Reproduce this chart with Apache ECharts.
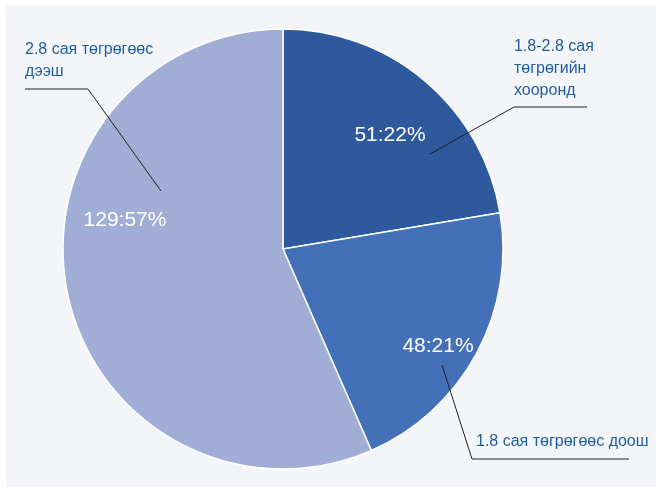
<!DOCTYPE html>
<html><head><meta charset="utf-8">
<script src="https://cdn.jsdelivr.net/npm/echarts@6/dist/echarts.min.js"></script>
<style>html,body{margin:0;padding:0;background:#fff}#c{width:656px;height:496px}</style>
</head><body><div id="c"></div>
<script>
const categories = ['1.8-2.8 сая\nтөгрөгийн\nхооронд', '1.8 сая төгрөгөөс доош', '2.8 сая төгрөгөөс\nдээш'];
const values = [51, 48, 129];
const percents = [22, 21, 57];
const colors = ['#2E5A9D', '#4370B7', '#A0AED6'];

const FONT = "'Liberation Sans Narrow', 'Arial Narrow', 'Liberation Sans', Arial, sans-serif";
const chart = echarts.init(document.getElementById('c'), null, {renderer: 'canvas'});

const outerLayout = [
  {x: 514, y: 36, align: 'left', verticalAlign: 'top', labelLinePoints: [[430, 154], [514, 107], [587, 107]]},
  {x: 476, y: 442, align: 'left', verticalAlign: 'middle', labelLinePoints: [[442, 365], [472, 459], [629, 459]]},
  {x: 25, y: 39, align: 'left', verticalAlign: 'top', labelLinePoints: [[161, 191], [88, 89], [25, 89]]}
];
const innerLayout = [
  {x: 390, y: 135}, {x: 438, y: 346}, {x: 125, y: 220}
];

const pieData = categories.map((c, i) => ({name: c, value: values[i], itemStyle: {color: colors[i]}}));

chart.setOption({
  backgroundColor: '#ffffff',
  animation: false,
  graphic: [{type: 'rect', shape: {x: 6, y: 5, width: 650, height: 482}, style: {fill: '#F3F5F9'}, z: -10}],
  series: [
    {
      type: 'pie', z: 2, center: [283, 249], radius: 220, startAngle: 90, clockwise: true,
      data: pieData,
      itemStyle: {borderColor: '#ffffff', borderWidth: 1.5},
      label: {show: true, position: 'inside', color: '#ffffff', fontFamily: FONT, fontSize: 21,
        formatter: function (p) { return values[p.dataIndex] + ':' + percents[p.dataIndex] + '%'; }},
      labelLine: {show: false},
      labelLayout: function (p) { return {x: innerLayout[p.dataIndex].x, y: innerLayout[p.dataIndex].y, align: 'center', verticalAlign: 'middle'}; },
      silent: true
    },
    {
      type: 'pie', z: 5, center: [283, 249], radius: 220, startAngle: 90, clockwise: true,
      avoidLabelOverlap: false,
      data: pieData.map((d) => ({name: d.name, value: d.value})),
      itemStyle: {color: 'rgba(0,0,0,0)', borderWidth: 0},
      label: {show: true, position: 'outside', formatter: '{b}', color: '#1F5E9E', fontFamily: FONT, fontSize: 16, lineHeight: 22, overflow: 'none'},
      labelLine: {show: true, lineStyle: {color: '#222222', width: 1}},
      labelLayout: function (p) { return Object.assign({hideOverlap: false, moveOverlap: null}, outerLayout[p.dataIndex]); },
      silent: true
    }
  ]
});
</script></body></html>
